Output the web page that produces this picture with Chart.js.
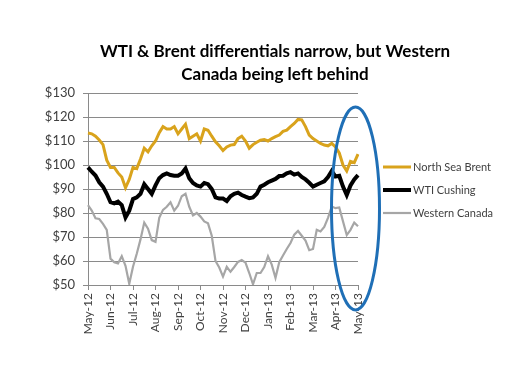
<!DOCTYPE html>
<html>
<head>
<meta charset="utf-8">
<script src="https://cdn.jsdelivr.net/npm/chart.js@4"></script>
<style>
  html, body { margin: 0; padding: 0; background: #fff; }
  #wrap { width: 526px; height: 386px; }
</style>
</head>
<body>
<div id="wrap"><canvas id="chart" width="526" height="386"></canvas></div>
<script>
const monthLabels = ["May-12", "Jun-12", "Jul-12", "Aug-12", "Sep-12", "Oct-12", "Nov-12",
                     "Dec-12", "Jan-13", "Feb-13", "Mar-13", "Apr-13", "May-13"];
const STEPS_PER_MONTH = 6;

const brent = [113.3, 113, 112, 110.4, 108.5, 102, 99, 99, 96.7, 95, 90.5, 94, 99,
  98.5, 102.5, 107, 105.5, 108, 110, 113.5, 116, 115, 115, 116, 113, 115, 117,
  111, 112, 113, 110, 115, 114.5, 112, 109.7, 108, 106, 107.5, 108.3, 108.5, 111,
  112, 110, 107, 108.5, 109.5, 110.3, 110.6, 110, 111, 111.8, 112.5, 114, 114.5,
  116, 117.3, 119, 118.8, 116, 112.5, 111, 110, 109, 108.3, 108, 109, 107.5, 105,
  100, 97.5, 101.5, 101, 104.5];

const wti = [99, 97.2, 95.6, 92.8, 91, 88, 84.5, 84, 84.7, 83.3, 78.2, 81, 85.8,
  86.5, 88, 92, 90, 88, 91.5, 94.5, 95.8, 96.5, 95.8, 95.5, 95.5, 96.5, 98.5,
  94.5, 92.5, 91.5, 91, 92.5, 92, 90, 86.5, 86, 86, 85, 87, 88, 88.5, 87.5, 86.8,
  86.2, 86.5, 88, 91, 91.8, 92.8, 93.5, 94.2, 95.4, 95.5, 96.5, 97, 96, 96.5, 95,
  94, 92.6, 91, 91.8, 92.5, 93.2, 95, 97.5, 95.2, 95.5, 91, 87.5, 91.5, 94, 95.8];

const westernCanada = [83.3, 81, 77.8, 77.5, 75.5, 73, 61, 59.5, 59, 62, 58, 50.5,
  57.6, 63, 69, 76, 73.5, 68.7, 68, 78, 81.3, 82.6, 84.5, 81, 83, 87, 88, 82.6, 79,
  80, 78.5, 76.5, 75.7, 70.5, 60, 57.3, 53.5, 57.6, 55.5, 57.5, 59.6, 60.4, 59.3,
  55, 50.3, 55, 55, 57.5, 62, 58.5, 53, 59.5, 62.3, 65, 67.5, 71, 72.5, 70.5, 68.5,
  64.5, 65, 73, 72.3, 74.2, 78, 82.7, 82, 82.3, 76.5, 70.8, 73, 76, 74.5];

const seriesNames = ["North Sea Brent", "WTI Cushing", "Western Canada"];
const titleLines = ["WTI & Brent differentials narrow, but Western", "Canada being left behind"];

// STYLE
const COLORS = ["#D9A31C", "#000000", "#A6A6A6"];
const WIDTHS = [3, 4, 2.2];
const GRID = "#8A8A8A";
const FONT = "Lato";

// one label per data point, month name only at month starts
const labels = brent.map((_, i) => i % STEPS_PER_MONTH === 0 ? monthLabels[i / STEPS_PER_MONTH] : "");

const overlay = {
  id: "overlay",
  afterDraw(chart) {
    const ctx = chart.ctx;
    ctx.save();

    // title
    ctx.fillStyle = "#000";
    ctx.font = "bold 17px " + FONT;
    ctx.textAlign = "center";
    ctx.textBaseline = "middle";
    titleLines.forEach((t, i) => ctx.fillText(t, 275, 52 + i * 23));

    // legend
    ctx.textAlign = "left";
    ctx.font = "11px " + FONT;
    chart.data.datasets.forEach((ds, i) => {
      const y = 167 + i * 23;
      ctx.beginPath();
      ctx.moveTo(383, y);
      ctx.lineTo(411, y);
      ctx.strokeStyle = ds.borderColor;
      ctx.lineWidth = ds.borderWidth;
      ctx.stroke();
      ctx.fillStyle = "#404040";
      ctx.fillText(ds.label, 413, y);
    });

    // highlight ellipse around the last weeks
    ctx.beginPath();
    ctx.ellipse(355.5, 208.5, 24, 101.5, 0, 0, Math.PI * 2);
    ctx.strokeStyle = "#1F6FB6";
    ctx.lineWidth = 3;
    ctx.stroke();

    ctx.restore();
  }
};

function makeDataset(i, values) {
  return {
    label: seriesNames[i],
    data: values,
    borderColor: COLORS[i],
    borderWidth: WIDTHS[i],
    pointRadius: 0,
    tension: 0,
    fill: false
  };
}

new Chart(document.getElementById("chart"), {
  type: "line",
  data: {
    labels: labels,
    datasets: [
      makeDataset(0, brent),
      makeDataset(1, wti),
      makeDataset(2, westernCanada)
    ]
  },
  options: {
    responsive: false,
    animation: false,
    devicePixelRatio: 1,
    layout: { padding: { left: 40, right: 168, top: 93, bottom: 50 } },
    plugins: {
      legend: { display: false },
      title: { display: false },
      tooltip: { enabled: false }
    },
    scales: {
      x: {
        type: "category",
        offset: false,
        grid: { drawOnChartArea: false, drawTicks: true, tickLength: 5, color: GRID },
        border: { color: GRID, width: 1 },
        ticks: {
          autoSkip: false,
          maxRotation: 90,
          minRotation: 90,
          padding: 3,
          color: "#404040",
          font: { family: FONT, size: 12 },
          callback: function (value, index) {
            const l = labels[index];
            return l === "" ? null : l;
          }
        },
        afterFit: s => { s.height = 51; }
      },
      y: {
        min: 50,
        max: 130,
        grid: { color: GRID, tickLength: 5 },
        border: { color: GRID, width: 1 },
        ticks: {
          stepSize: 10,
          padding: 8,
          color: "#404040",
          font: { family: FONT, size: 13 },
          callback: v => "$" + v
        },
        afterFit: s => { s.width = 48; }
      }
    }
  },
  plugins: [overlay]
});
</script>
</body>
</html>
